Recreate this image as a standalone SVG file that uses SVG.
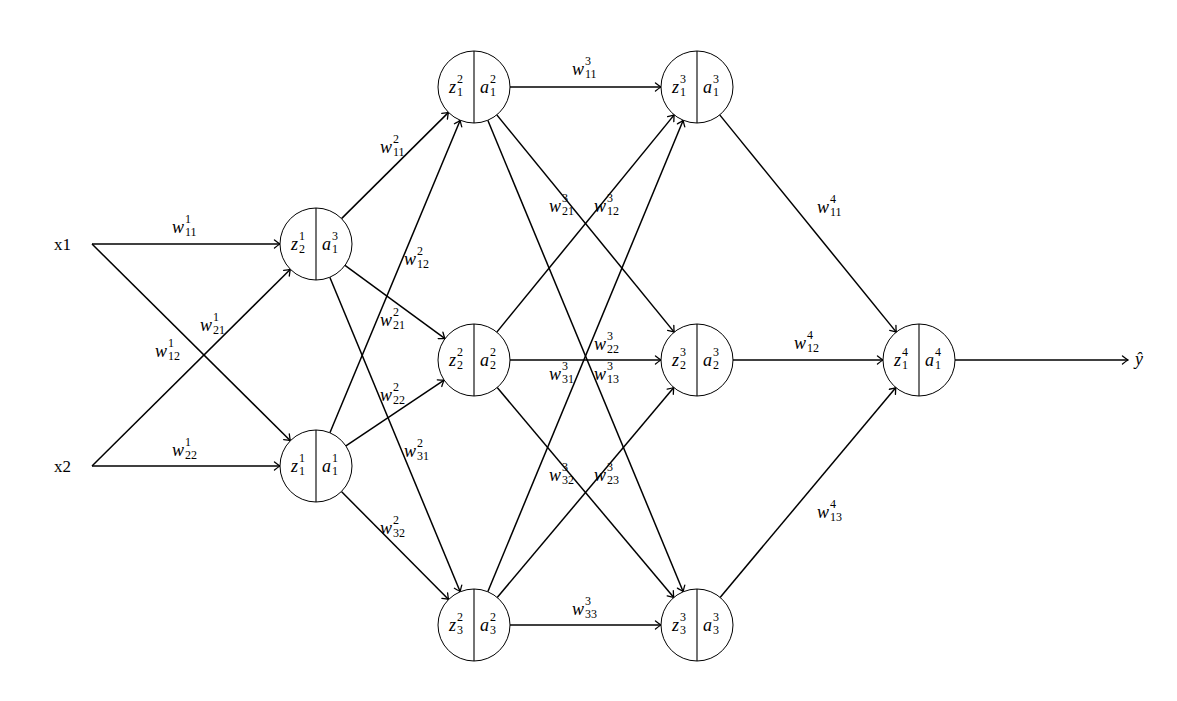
<svg xmlns="http://www.w3.org/2000/svg" width="1177" height="701" viewBox="0 0 1177 701">
<style>
text{font-family:"Liberation Serif","DejaVu Serif",serif;fill:#000}
.b{font-size:18px;font-style:italic}
.s{font-size:12px;font-style:normal}
.t{font-size:17px}
.node circle{fill:#fff;stroke:#000;stroke-width:1}
.node line{stroke:#000;stroke-width:1.1}
#edges line{stroke:#000;stroke-width:1.5;fill:none;marker-end:url(#arr)}
</style>
<defs>
<marker id="arr" markerUnits="userSpaceOnUse" viewBox="-7 -5 8 10" refX="0" refY="0" markerWidth="8" markerHeight="10" orient="auto">
<path d="M-5.5,-4 Q-1.5,-0.8 0,0 Q-1.5,0.8 -5.5,4" fill="none" stroke="#000" stroke-width="1.3" stroke-linecap="round"/>
</marker>
</defs>
<rect width="1177" height="701" fill="#fff"/>
<g id="edges">
<line x1="92" y1="244" x2="280" y2="244"/>
<line x1="92" y1="244" x2="290.4" y2="440.7"/>
<line x1="92" y1="466" x2="290.4" y2="269.3"/>
<line x1="92" y1="466" x2="280" y2="466"/>
<line x1="341.5" y1="218.6" x2="448.5" y2="112.4"/>
<line x1="345" y1="265.3" x2="445" y2="338.7"/>
<line x1="329.8" y1="277.3" x2="460.2" y2="591.8"/>
<line x1="329.9" y1="432.8" x2="460.2" y2="120.2"/>
<line x1="345.9" y1="445.9" x2="444.1" y2="380.1"/>
<line x1="341.4" y1="491.5" x2="448.6" y2="599.5"/>
<line x1="510" y1="87" x2="661" y2="87"/>
<line x1="496.8" y1="114.9" x2="674.2" y2="332.1"/>
<line x1="487.8" y1="120.3" x2="683.2" y2="591.7"/>
<line x1="496.8" y1="332.1" x2="674.2" y2="114.9"/>
<line x1="510" y1="360" x2="661" y2="360"/>
<line x1="497.2" y1="387.5" x2="673.8" y2="597.5"/>
<line x1="487.8" y1="591.7" x2="683.2" y2="120.3"/>
<line x1="497.2" y1="597.5" x2="673.8" y2="387.5"/>
<line x1="510" y1="625" x2="661" y2="625"/>
<line x1="719.7" y1="114.9" x2="896.3" y2="332.1"/>
<line x1="733" y1="360" x2="883" y2="360"/>
<line x1="720.1" y1="597.4" x2="895.9" y2="387.6"/>
<line x1="955" y1="360" x2="1128" y2="360"/>
</g>
<g id="weights">
<text><tspan class="b" x="172" y="233">w</tspan><tspan class="s" x="185" y="223">1</tspan><tspan class="s" x="185" y="236">11</tspan></text>
<text><tspan class="b" x="200" y="331">w</tspan><tspan class="s" x="213" y="321">1</tspan><tspan class="s" x="213" y="334">21</tspan></text>
<text><tspan class="b" x="155" y="357">w</tspan><tspan class="s" x="168" y="347">1</tspan><tspan class="s" x="168" y="360">12</tspan></text>
<text><tspan class="b" x="172" y="456">w</tspan><tspan class="s" x="185" y="446">1</tspan><tspan class="s" x="185" y="459">22</tspan></text>
<text><tspan class="b" x="380" y="153">w</tspan><tspan class="s" x="393" y="143">2</tspan><tspan class="s" x="393" y="156">11</tspan></text>
<text><tspan class="b" x="404" y="265">w</tspan><tspan class="s" x="417" y="255">2</tspan><tspan class="s" x="417" y="268">12</tspan></text>
<text><tspan class="b" x="380" y="326">w</tspan><tspan class="s" x="393" y="316">2</tspan><tspan class="s" x="393" y="329">21</tspan></text>
<text><tspan class="b" x="380" y="401">w</tspan><tspan class="s" x="393" y="391">2</tspan><tspan class="s" x="393" y="404">22</tspan></text>
<text><tspan class="b" x="404" y="457">w</tspan><tspan class="s" x="417" y="447">2</tspan><tspan class="s" x="417" y="460">31</tspan></text>
<text><tspan class="b" x="380" y="534">w</tspan><tspan class="s" x="393" y="524">2</tspan><tspan class="s" x="393" y="537">32</tspan></text>
<text><tspan class="b" x="572" y="75">w</tspan><tspan class="s" x="585" y="65">3</tspan><tspan class="s" x="585" y="78">11</tspan></text>
<text><tspan class="b" x="549" y="212">w</tspan><tspan class="s" x="562" y="202">3</tspan><tspan class="s" x="562" y="215">21</tspan></text>
<text><tspan class="b" x="594" y="212">w</tspan><tspan class="s" x="607" y="202">3</tspan><tspan class="s" x="607" y="215">12</tspan></text>
<text><tspan class="b" x="594" y="350">w</tspan><tspan class="s" x="607" y="340">3</tspan><tspan class="s" x="607" y="353">22</tspan></text>
<text><tspan class="b" x="549" y="380">w</tspan><tspan class="s" x="562" y="370">3</tspan><tspan class="s" x="562" y="383">31</tspan></text>
<text><tspan class="b" x="594" y="380">w</tspan><tspan class="s" x="607" y="370">3</tspan><tspan class="s" x="607" y="383">13</tspan></text>
<text><tspan class="b" x="549" y="481">w</tspan><tspan class="s" x="562" y="471">3</tspan><tspan class="s" x="562" y="484">32</tspan></text>
<text><tspan class="b" x="594" y="481">w</tspan><tspan class="s" x="607" y="471">3</tspan><tspan class="s" x="607" y="484">23</tspan></text>
<text><tspan class="b" x="572" y="615">w</tspan><tspan class="s" x="585" y="605">3</tspan><tspan class="s" x="585" y="618">33</tspan></text>
<text><tspan class="b" x="817" y="213">w</tspan><tspan class="s" x="830" y="203">4</tspan><tspan class="s" x="830" y="216">11</tspan></text>
<text><tspan class="b" x="794" y="349">w</tspan><tspan class="s" x="807" y="339">4</tspan><tspan class="s" x="807" y="352">12</tspan></text>
<text><tspan class="b" x="817" y="518">w</tspan><tspan class="s" x="830" y="508">4</tspan><tspan class="s" x="830" y="521">13</tspan></text>
</g>
<g id="x1"><text class="t" x="54" y="250">x1</text></g>
<g id="x2"><text class="t" x="54" y="472">x2</text></g>
<g id="yhat"><text class="b" x="1135" y="365">ŷ</text></g>
<g id="n11" class="node"><circle cx="316" cy="244" r="36"/><line x1="316" y1="208" x2="316" y2="280"/>
<text><tspan class="b" x="291" y="250">z</tspan><tspan class="s" x="299" y="240">1</tspan><tspan class="s" x="299" y="253">2</tspan></text>
<text><tspan class="b" x="322" y="250">a</tspan><tspan class="s" x="332" y="240">3</tspan><tspan class="s" x="332" y="253">1</tspan></text></g>
<g id="n12" class="node"><circle cx="316" cy="466" r="36"/><line x1="316" y1="430" x2="316" y2="502"/>
<text><tspan class="b" x="291" y="472">z</tspan><tspan class="s" x="299" y="462">1</tspan><tspan class="s" x="299" y="475">1</tspan></text>
<text><tspan class="b" x="322" y="472">a</tspan><tspan class="s" x="332" y="462">1</tspan><tspan class="s" x="332" y="475">1</tspan></text></g>
<g id="n21" class="node"><circle cx="474" cy="87" r="36"/><line x1="474" y1="51" x2="474" y2="123"/>
<text><tspan class="b" x="449" y="93">z</tspan><tspan class="s" x="457" y="83">2</tspan><tspan class="s" x="457" y="96">1</tspan></text>
<text><tspan class="b" x="480" y="93">a</tspan><tspan class="s" x="490" y="83">2</tspan><tspan class="s" x="490" y="96">1</tspan></text></g>
<g id="n22" class="node"><circle cx="474" cy="360" r="36"/><line x1="474" y1="324" x2="474" y2="396"/>
<text><tspan class="b" x="449" y="366">z</tspan><tspan class="s" x="457" y="356">2</tspan><tspan class="s" x="457" y="369">2</tspan></text>
<text><tspan class="b" x="480" y="366">a</tspan><tspan class="s" x="490" y="356">2</tspan><tspan class="s" x="490" y="369">2</tspan></text></g>
<g id="n23" class="node"><circle cx="474" cy="625" r="36"/><line x1="474" y1="589" x2="474" y2="661"/>
<text><tspan class="b" x="449" y="631">z</tspan><tspan class="s" x="457" y="621">2</tspan><tspan class="s" x="457" y="634">3</tspan></text>
<text><tspan class="b" x="480" y="631">a</tspan><tspan class="s" x="490" y="621">2</tspan><tspan class="s" x="490" y="634">3</tspan></text></g>
<g id="n31" class="node"><circle cx="697" cy="87" r="36"/><line x1="697" y1="51" x2="697" y2="123"/>
<text><tspan class="b" x="672" y="93">z</tspan><tspan class="s" x="680" y="83">3</tspan><tspan class="s" x="680" y="96">1</tspan></text>
<text><tspan class="b" x="703" y="93">a</tspan><tspan class="s" x="713" y="83">3</tspan><tspan class="s" x="713" y="96">1</tspan></text></g>
<g id="n32" class="node"><circle cx="697" cy="360" r="36"/><line x1="697" y1="324" x2="697" y2="396"/>
<text><tspan class="b" x="672" y="366">z</tspan><tspan class="s" x="680" y="356">3</tspan><tspan class="s" x="680" y="369">2</tspan></text>
<text><tspan class="b" x="703" y="366">a</tspan><tspan class="s" x="713" y="356">3</tspan><tspan class="s" x="713" y="369">2</tspan></text></g>
<g id="n33" class="node"><circle cx="697" cy="625" r="36"/><line x1="697" y1="589" x2="697" y2="661"/>
<text><tspan class="b" x="672" y="631">z</tspan><tspan class="s" x="680" y="621">3</tspan><tspan class="s" x="680" y="634">3</tspan></text>
<text><tspan class="b" x="703" y="631">a</tspan><tspan class="s" x="713" y="621">3</tspan><tspan class="s" x="713" y="634">3</tspan></text></g>
<g id="n41" class="node"><circle cx="919" cy="360" r="36"/><line x1="919" y1="324" x2="919" y2="396"/>
<text><tspan class="b" x="894" y="366">z</tspan><tspan class="s" x="902" y="356">4</tspan><tspan class="s" x="902" y="369">1</tspan></text>
<text><tspan class="b" x="925" y="366">a</tspan><tspan class="s" x="935" y="356">4</tspan><tspan class="s" x="935" y="369">1</tspan></text></g>
</svg>
